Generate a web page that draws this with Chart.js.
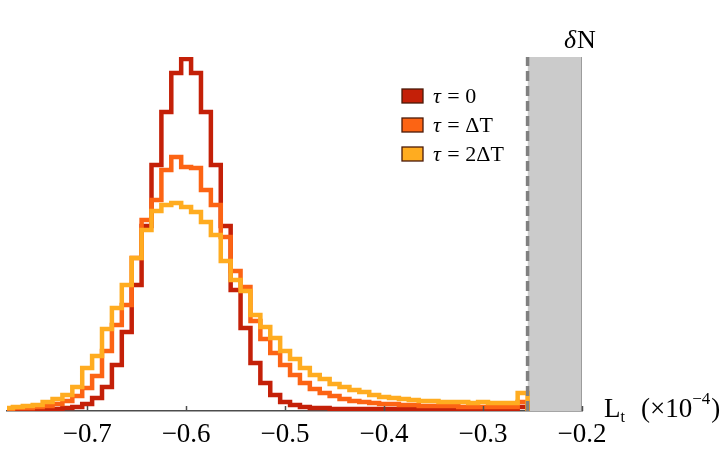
<!DOCTYPE html>
<html><head><meta charset="utf-8">
<script src="https://cdn.jsdelivr.net/npm/chart.js@4"></script>
<style>html,body{margin:0;padding:0;background:#fff}#wrap{width:726px;height:454px}</style>
</head><body><div id="wrap"><canvas id="c" width="726" height="454"></canvas></div>
<script>
// ---- data ----
const binCenters = [-0.78,-0.77,-0.76,-0.75,-0.74,-0.73,-0.72,-0.71,-0.70,-0.69,-0.68,-0.67,-0.66,-0.65,-0.64,-0.63,-0.62,-0.61,-0.60,-0.59,-0.58,-0.57,-0.56,-0.55,-0.54,-0.53,-0.52,-0.51,-0.50,-0.49,-0.48,-0.47,-0.46,-0.45,-0.44,-0.43,-0.42,-0.41,-0.40,-0.39,-0.38,-0.37,-0.36,-0.35,-0.34,-0.33,-0.32,-0.31,-0.30,-0.29,-0.28,-0.27,-0.26];
const binHalfWidth = 0.005;
const tau0 = [2,2,2,2,2,2,3,4,7,13,24,46,79,126,185,246,299,338,352,338,299,246,185,121,83,48,28,16,9,6,4,3,3,2,2,2,2,2,2,2,2,2,2,2,2,2,2,2,2,2,2,2,4];
const tauDT = [2,3,3,4,5,7,10,15,23,35,60,86,106,153,191,211,241,254,244,243,221,206,174,140,124,90,72,58,46,36,28,22,18,15,12,10,9,8,7,7,6,6,5,5,5,5,4,4,4,4,4,4,9];
const tau2DT = [3,4,5,6,9,12,16,24,43,55,82,103,126,153,181,200,206,208,204,199,189,176,150,131,120,96,84,73,60,52,43,36,32,27,24,21,19,16,14,13,12,11,10,10,9,9,9,8,9,8,8,8,18];
const seriesLabels = ['τ = 0', 'τ = ΔT', 'τ = 2ΔT'];
const seriesColors = ['#c42008', '#fc6414', '#ffac20'];
const xTicks = [-0.7, -0.6, -0.5, -0.4, -0.3, -0.2];
const deltaNEdge = -0.255;
const xMin = -0.781, xMax = -0.2, yMax = 354;

function histPoints(vals) {
  const pts = binCenters.map((c, i) => ({x: c - binHalfWidth, y: vals[i]}));
  const last = binCenters[binCenters.length - 1] + binHalfWidth;
  pts.push({x: last, y: vals[vals.length - 1]});
  pts.push({x: last, y: 0});
  return pts;
}
function histDataset(vals, i, order) {
  return {label: seriesLabels[i], data: histPoints(vals), borderColor: seriesColors[i],
    borderWidth: 4.5, stepped: true, fill: false, pointRadius: 0,
    borderJoinStyle: 'miter', borderCapStyle: 'butt', order: order};
}

const overlay = {
  id: 'overlay',
  afterDatasetsDraw(chart) {
    const ctx = chart.ctx, xs = chart.scales.x, b = chart.chartArea.bottom;
    ctx.save();
    ctx.strokeStyle = '#4d4d4d'; ctx.lineWidth = 1.5;
    xTicks.forEach(v => { const px = Math.round(xs.getPixelForValue(v)) + 0.5;
      ctx.beginPath(); ctx.moveTo(px, b); ctx.lineTo(px, b - 5); ctx.stroke(); });
    ctx.restore();
  },
  afterDraw(chart) {
    const ctx = chart.ctx;
    const serif = "'Liberation Serif', 'DejaVu Serif', serif";
    ctx.save();
    ctx.fillStyle = '#000'; ctx.textBaseline = 'alphabetic'; ctx.textAlign = 'left';
    // legend
    seriesLabels.forEach((lab, i) => {
      const y0 = 89 + 29 * i;
      ctx.fillStyle = seriesColors[i];
      ctx.fillRect(402, y0, 21, 14);
      ctx.strokeStyle = '#4a1a08'; ctx.lineWidth = 1.3;
      ctx.strokeRect(402, y0, 21, 14);
      ctx.fillStyle = '#000';
      ctx.font = 'italic 22px ' + serif;
      ctx.fillText(lab[0], 433, y0 + 14);
      const w = ctx.measureText(lab[0]).width;
      ctx.font = '22px ' + serif;
      ctx.fillText(lab.slice(1), 433 + w + 1, y0 + 14);
    });
    // deltaN label
    ctx.font = 'italic 26px ' + serif;
    ctx.fillText('δ', 564, 48);
    const dw = ctx.measureText('δ').width;
    ctx.font = '26px ' + serif;
    ctx.fillText('N', 564 + dw + 1, 48);
    // axis label L_t (×10^-4)
    ctx.font = '27px ' + serif;
    ctx.fillText('L', 604, 417);
    const lw = ctx.measureText('L').width;
    ctx.font = '16px ' + serif;
    ctx.fillText('t', 604 + lw, 422);
    ctx.font = '27px ' + serif;
    ctx.fillText('(×10', 641, 417);
    let xx = 641 + ctx.measureText('(×10').width;
    ctx.font = '17px ' + serif;
    ctx.fillText('\u22124', xx, 404);
    xx += ctx.measureText('\u22124').width + 1;
    ctx.font = '27px ' + serif;
    ctx.fillText(')', xx, 417);
    ctx.restore();
  }
};

Chart.defaults.font.family = "'Liberation Serif', 'DejaVu Serif', serif";
new Chart(document.getElementById('c'), {
  type: 'line',
  data: {
    datasets: [
      histDataset(tau0, 0, 3),
      histDataset(tauDT, 1, 2),
      histDataset(tau2DT, 2, 1),
      {label: 'deltaN region', data: [{x: deltaNEdge, y: yMax}, {x: xMax, y: yMax}], fill: 'origin',
        backgroundColor: '#cbcbcb', borderWidth: 0, pointRadius: 0, order: 6},
      {label: 'edge', data: [{x: xMax, y: 0}, {x: xMax, y: yMax}], borderColor: '#8c8c8c',
        borderWidth: 1.5, pointRadius: 0, fill: false, order: 5},
      {label: 'bound', data: [{x: deltaNEdge, y: 0}, {x: deltaNEdge, y: yMax}], borderColor: '#808080',
        borderWidth: 3.5, borderDash: [10, 5], pointRadius: 0, fill: false, order: 0}
    ]
  },
  options: {
    responsive: false, animation: false, devicePixelRatio: 1,
    layout: {padding: {left: 7, right: 144, top: 57, bottom: 0}},
    plugins: {legend: {display: false}, tooltip: {enabled: false}},
    scales: {
      x: {type: 'linear', min: xMin, max: xMax,
        afterBuildTicks: s => { s.ticks = xTicks.map(v => ({value: v})); },
        afterFit: s => { s.height = 43; },
        grid: {display: false, drawTicks: false},
        border: {display: true, color: '#4d4d4d', width: 1.5},
        ticks: {padding: 8, color: '#000', font: {size: 27}, maxRotation: 0, autoSkip: false,
          callback: v => (v < 0 ? '\u2212' : '') + Math.abs(v).toFixed(1)}},
      y: {display: false, min: 0, max: yMax}
    }
  },
  plugins: [overlay]
});
</script>
</body></html>
